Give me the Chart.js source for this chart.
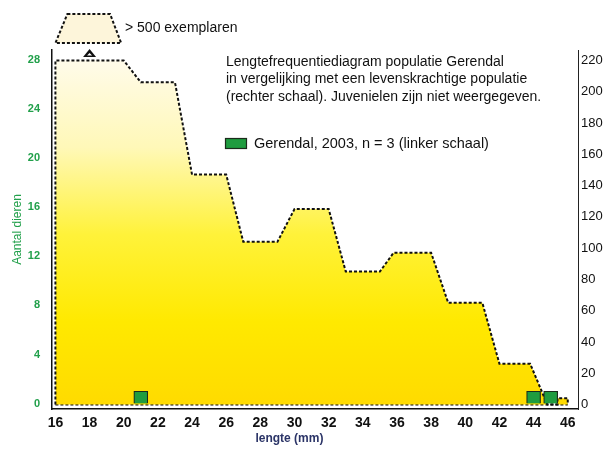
<!DOCTYPE html>
<html>
<head>
<meta charset="utf-8">
<script src="https://cdn.jsdelivr.net/npm/chart.js@4.4.1/dist/chart.umd.min.js"></script>
<style>
  html, body { margin: 0; padding: 0; background: #fff; }
  canvas { display: block; }
</style>
</head>
<body>
<canvas id="lf-canvas" width="607" height="450"></canvas>
<script>
// knikpunten van het profiel van de levenskrachtige populatie (rechter schaal)
var refLength = [16, 16, 20, 21, 23, 24, 26, 27, 29, 30, 32, 33, 35, 35.8, 38, 39, 41, 42, 43.8, 44.8, 45.4, 45.4, 46, 46];
var refCount  = [0, 220, 220, 206, 206, 147, 147, 104, 104, 125, 125, 85, 85, 97, 97, 65, 65, 26, 26, 0, 0, 4, 4, 0];

// Gerendal 2003 (linker schaal)
var gerendalLength = [21, 44, 45];
var gerendalCount  = [1, 1, 1];

var baseLength = [16, 46];
var baseCount  = [0, 0];

var xTicks     = [16, 18, 20, 22, 24, 26, 28, 30, 32, 34, 36, 38, 40, 42, 44, 46];
var leftTicks  = [0, 4, 8, 12, 16, 20, 24, 28];
var rightTicks = [0, 20, 40, 60, 80, 100, 120, 140, 160, 180, 200, 220];

var FONT = 'Arial, "Liberation Sans", Helvetica, sans-serif';
Chart.defaults.font.family = FONT;

function toPoints(xs, ys) {
    var pts = [];
    for (var i = 0; i < xs.length; i++) {
        pts.push({ x: xs[i], y: ys[i] });
    }
    return pts;
}

function setTicks(list) {
    return function(scale) {
        scale.ticks = list.map(function(v) { return { value: v }; });
    };
}

function yellowFill(context) {
    var area = context.chart.chartArea;
    if (!area) return '#ffe800';
    var g = context.chart.ctx.createLinearGradient(0, area.top + 10, 0, area.bottom);
    g.addColorStop(0, '#fffbea');
    g.addColorStop(0.25, '#fff8b8');
    g.addColorStop(0.5, '#fff23a');
    g.addColorStop(0.75, '#ffe900');
    g.addColorStop(1, '#ffda00');
    return g;
}

// teksten, sleutel en >500 markering
var notesPlugin = {
    id: 'notes',
    afterDraw: function(chart) {
        var ctx = chart.ctx;
        var xs = chart.scales.x;
        var top = chart.chartArea.top;
        ctx.save();

        // trapezium "> 500 exemplaren"
        ctx.beginPath();
        ctx.moveTo(xs.getPixelForValue(16.7), top - 36);
        ctx.lineTo(xs.getPixelForValue(19.2), top - 36);
        ctx.lineTo(xs.getPixelForValue(19.85), top - 7);
        ctx.lineTo(xs.getPixelForValue(16.0), top - 7);
        ctx.closePath();
        ctx.fillStyle = '#fdf5da';
        ctx.fill();
        ctx.setLineDash([3, 2]);
        ctx.lineWidth = 2;
        ctx.strokeStyle = '#111';
        ctx.stroke();
        ctx.setLineDash([]);

        // driehoekje boven 18 mm
        var tx = xs.getPixelForValue(18);
        ctx.beginPath();
        ctx.moveTo(tx, top - 1);
        ctx.lineTo(tx + 6.5, top + 7);
        ctx.lineTo(tx - 6.5, top + 7);
        ctx.closePath();
        ctx.fillStyle = '#111';
        ctx.fill();
        ctx.beginPath();
        ctx.moveTo(tx, top + 3);
        ctx.lineTo(tx + 2.5, top + 5.5);
        ctx.lineTo(tx - 2.5, top + 5.5);
        ctx.closePath();
        ctx.fillStyle = '#fff';
        ctx.fill();

        ctx.fillStyle = '#111';
        ctx.font = '14px ' + FONT;
        ctx.textAlign = 'left';
        ctx.textBaseline = 'middle';
        ctx.fillText('> 500 exemplaren', 125, 28);

        var lines = [
            'Lengtefrequentiediagram populatie Gerendal',
            'in vergelijking met een levenskrachtige populatie',
            '(rechter schaal). Juvenielen zijn niet weergegeven.'
        ];
        for (var i = 0; i < lines.length; i++) {
            ctx.fillText(lines[i], 226, 62 + i * 17.5);
        }

        // sleutel
        ctx.fillStyle = '#1f9c3f';
        ctx.fillRect(225.5, 138.5, 21, 10);
        ctx.lineWidth = 1.2;
        ctx.strokeStyle = '#1b2b1b';
        ctx.strokeRect(225.5, 138.5, 21, 10);
        ctx.fillStyle = '#111';
        ctx.font = '14.5px ' + FONT;
        ctx.fillText('Gerendal, 2003, n = 3 (linker schaal)', 254, 144);

        // as-titel onder
        ctx.font = 'bold 12px ' + FONT;
        ctx.fillStyle = '#2b3467';
        ctx.textAlign = 'center';
        ctx.fillText('lengte (mm)', xs.getPixelForValue(29.7), 439);

        ctx.restore();
    }
};

var ctx = document.getElementById('lf-canvas').getContext('2d');
var lfChart = new Chart(ctx, {
    type: 'line',
    data: {
        datasets: [
            {
                type: 'bar',
                label: 'Gerendal, 2003, n = 3',
                data: toPoints(gerendalLength, gerendalCount),
                xAxisID: 'x',
                yAxisID: 'yL',
                backgroundColor: '#1f9c3f',
                borderColor: '#1b2b1b',
                borderWidth: 1.2,
                barThickness: 14,
                grouped: false,
                order: 0
            },
            {
                label: 'levenskrachtige populatie',
                data: toPoints(refLength, refCount),
                xAxisID: 'x',
                yAxisID: 'yR',
                borderColor: '#111',
                borderWidth: 2,
                borderDash: [3, 2],
                backgroundColor: yellowFill,
                fill: 'origin',
                tension: 0,
                pointRadius: 0,
                order: 1
            },
            {
                label: 'basis',
                data: toPoints(baseLength, baseCount),
                xAxisID: 'x',
                yAxisID: 'yR',
                borderColor: '#111',
                borderWidth: 2,
                borderDash: [3, 2],
                fill: false,
                pointRadius: 0,
                order: 2
            }
        ]
    },
    options: {
        responsive: false,
        animation: false,
        layout: { padding: { top: 50, left: 0, right: 0, bottom: 0 } },
        plugins: {
            legend: { display: false },
            tooltip: { enabled: false }
        },
        scales: {
            x: {
                type: 'linear',
                min: 15.8,
                max: 46.6,
                offset: false,
                afterBuildTicks: setTicks(xTicks),
                afterFit: function(scale) { scale.height = 41; },
                grid: { display: false, drawTicks: false },
                border: { display: true, color: '#111', width: 1.5 },
                ticks: {
                    autoSkip: false,
                    maxRotation: 0,
                    padding: 6,
                    color: '#111',
                    font: { size: 14, weight: 'bold' }
                }
            },
            yL: {
                type: 'linear',
                position: 'left',
                min: -0.45,
                max: 28.85,
                afterBuildTicks: setTicks(leftTicks),
                afterFit: function(scale) { scale.width = 52; },
                grid: { display: false, drawTicks: false },
                border: { display: true, color: '#111', width: 1.5 },
                ticks: {
                    autoSkip: false,
                    padding: 12,
                    color: '#22a04b',
                    font: { size: 11, weight: 'bold' }
                },
                title: {
                    display: true,
                    text: 'Aantal dieren',
                    color: '#22a04b',
                    font: { size: 12 },
                    padding: { top: 10, bottom: 0 }
                }
            },
            yR: {
                type: 'linear',
                position: 'right',
                min: -2.9,
                max: 226.7,
                afterBuildTicks: setTicks(rightTicks),
                afterFit: function(scale) { scale.width = 29; },
                grid: { display: false, drawTicks: false },
                border: { display: true, color: '#222', width: 1 },
                ticks: {
                    autoSkip: false,
                    padding: 3,
                    color: '#111',
                    font: { size: 13 }
                }
            }
        }
    },
    plugins: [notesPlugin]
});
</script>
</body>
</html>
